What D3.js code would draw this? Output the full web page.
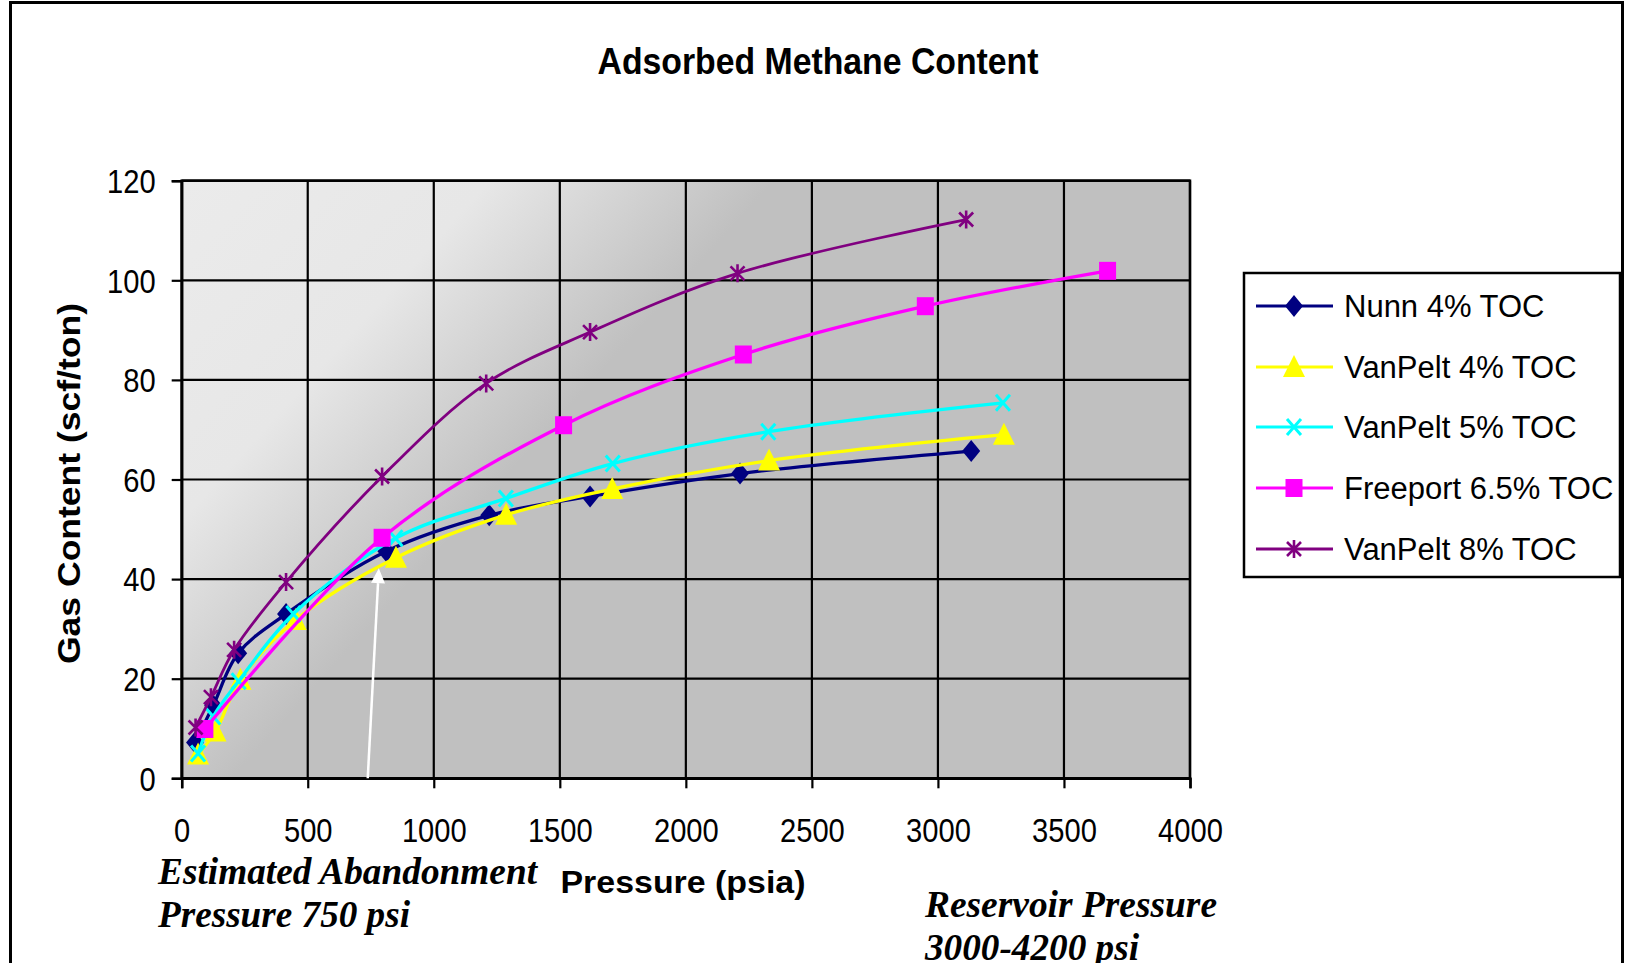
<!DOCTYPE html>
<html>
<head>
<meta charset="utf-8">
<script src="https://cdn.jsdelivr.net/npm/d3@7"></script>
<style>
  html, body { margin: 0; padding: 0; background: #ffffff; }
  svg { display: block; }
</style>
</head>
<body>
<svg id="chart" width="1627" height="963"></svg>
<script>
// ---------------- data ----------------
const xTicks = [0, 500, 1000, 1500, 2000, 2500, 3000, 3500, 4000];
const yTicks = [0, 20, 40, 60, 80, 100, 120];

const seriesNames = ["Nunn 4% TOC", "VanPelt 4% TOC", "VanPelt 5% TOC", "Freeport 6.5% TOC", "VanPelt 8% TOC"];
const seriesColors = ["#000080", "#FFFF00", "#00FFFF", "#FF00FF", "#800080"];
const seriesMarkers = ["diamond", "triangle", "cross", "square", "star"];

const nunnP = [53, 125, 224, 414, 812, 1220, 1620, 2215, 3132];
const nunnG = [7.2, 14.6, 25.1, 33.0, 45.6, 52.8, 56.6, 61.2, 65.7];
const vp4P  = [65, 134, 233, 452, 850, 1287, 1708, 2330, 3262];
const vp4G  = [4.8, 9.4, 19.8, 31.8, 44.3, 52.9, 58.1, 63.8, 69.0];
const vp5P  = [65, 125, 226, 443, 848, 1286, 1710, 2327, 3258];
const vp5G  = [5.0, 12.4, 19.5, 33.0, 48.2, 56.2, 63.2, 69.6, 75.4];
const fpP   = [92, 795, 1515, 2228, 2950, 3673];
const fpG   = [9.9, 48.3, 70.9, 85.1, 94.8, 101.9];
const vp8P  = [55, 116, 208, 414, 795, 1208, 1620, 2205, 3112];
const vp8G  = [10.2, 16.3, 25.8, 39.4, 60.6, 79.3, 89.6, 101.4, 112.2];

const seriesP = [nunnP, vp4P, vp5P, fpP, vp8P];
const seriesG = [nunnG, vp4G, vp5G, fpG, vp8G];

// annotation arrow (pressure, gas content): from tail to tip
const arrowFrom = [738, 0];
const arrowTo = [782, 42.2];

// ---------------- layout ----------------
const svg = d3.select("#chart");
const plot = { left: 181.7, top: 180.7, right: 1190, bottom: 778.3 };
const sans = "'Liberation Sans', Arial, sans-serif";
const serif = "'Liberation Serif', 'Times New Roman', serif";

const x = d3.scaleLinear().domain([0, 4000]).range([plot.left, plot.right]);
const y = d3.scaleLinear().domain([0, 120]).range([plot.bottom, plot.top]);

// outer border
svg.append("rect")
  .attr("x", 10.5).attr("y", 2.5)
  .attr("width", 1612).attr("height", 1000)
  .attr("fill", "none").attr("stroke", "#000").attr("stroke-width", 3);

// gradient background
const defs = svg.append("defs");
const grad = defs.append("linearGradient")
  .attr("id", "bg").attr("gradientUnits", "userSpaceOnUse")
  .attr("x1", plot.left).attr("y1", plot.top)
  .attr("x2", plot.left + 325).attr("y2", plot.top + 295);
grad.append("stop").attr("offset", 0).attr("stop-color", "#ebebeb");
grad.append("stop").attr("offset", 0.52).attr("stop-color", "#e7e7e7");
grad.append("stop").attr("offset", 1).attr("stop-color", "#c0c0c0");

svg.append("rect")
  .attr("x", plot.left).attr("y", plot.top)
  .attr("width", plot.right - plot.left).attr("height", plot.bottom - plot.top)
  .attr("fill", "url(#bg)");

// gridlines
const grid = svg.append("g");
grid.selectAll("line.v").data(xTicks).join("line")
  .attr("x1", d => x(d)).attr("x2", d => x(d))
  .attr("y1", plot.top).attr("y2", plot.bottom)
  .attr("stroke", "#000").attr("stroke-width", 2.2);
grid.selectAll("line.h").data(yTicks).join("line")
  .attr("x1", plot.left).attr("x2", plot.right)
  .attr("y1", d => y(d)).attr("y2", d => y(d))
  .attr("stroke", "#000").attr("stroke-width", 2.2);

// axes
const xAxis = d3.axisBottom(x).tickValues(xTicks).tickSize(10).tickPadding(30).tickFormat(d3.format("d"));
const yAxis = d3.axisLeft(y).tickValues(yTicks).tickSize(10).tickPadding(16).tickFormat(d3.format("d"));

const gx = svg.append("g").attr("transform", `translate(0,${plot.bottom})`).call(xAxis);
const gy = svg.append("g").attr("transform", `translate(${plot.left},0)`).call(yAxis);
[gx, gy].forEach(g => {
  g.select(".domain").attr("stroke", "#000").attr("stroke-width", 2.5);
  g.selectAll(".tick line").attr("stroke", "#000").attr("stroke-width", 2.2);
  g.selectAll(".tick text").attr("fill", "#000")
    .style("font-family", sans).style("font-size", "33px")
    .attr("textLength", function () { return this.textContent.length * 16.2; })
    .attr("lengthAdjust", "spacingAndGlyphs");
});
gx.selectAll(".tick text").attr("dy", "0.71em");
gy.selectAll(".tick text").attr("dy", "0.36em");

// plot border
svg.append("rect")
  .attr("x", plot.left).attr("y", plot.top)
  .attr("width", plot.right - plot.left).attr("height", plot.bottom - plot.top)
  .attr("fill", "none").attr("stroke", "#000").attr("stroke-width", 2.5);

// marker drawing
function drawMarker(g, type, color) {
  if (type === "diamond") {
    g.append("path").attr("d", "M0,-11 L9,0 L0,11 L-9,0 Z").attr("fill", color);
  } else if (type === "triangle") {
    g.append("path").attr("d", "M0,-12 L11,10 L-11,10 Z").attr("fill", color);
  } else if (type === "square") {
    g.append("rect").attr("x", -8.5).attr("y", -9).attr("width", 17).attr("height", 18).attr("fill", color);
  } else if (type === "cross") {
    g.append("path").attr("d", "M-7,-8 L7,8 M7,-8 L-7,8")
      .attr("stroke", color).attr("stroke-width", 3).attr("fill", "none");
  } else if (type === "star") {
    g.append("path").attr("d", "M0,-9 L0,9 M-7,-7 L7,7 M7,-7 L-7,7")
      .attr("stroke", color).attr("stroke-width", 2.6).attr("fill", "none");
  }
}

// series
const line = d3.line().x(d => x(d[0])).y(d => y(d[1])).curve(d3.curveCatmullRom.alpha(0.5));
seriesNames.forEach((name, i) => {
  const pts = seriesP[i].map((p, j) => [p, seriesG[i][j]]);
  const g = svg.append("g");
  g.append("path").datum(pts).attr("d", line)
    .attr("fill", "none").attr("stroke", seriesColors[i])
    .attr("stroke-width", i === 4 ? 2.8 : 3.3).attr("stroke-linejoin", "round");
  pts.forEach(pt => {
    const m = g.append("g").attr("transform", `translate(${x(pt[0])},${y(pt[1])})`);
    drawMarker(m, seriesMarkers[i], seriesColors[i]);
  });
});

// white arrow
const ax1 = x(arrowFrom[0]), ay1 = y(arrowFrom[1]);
const ax2 = x(arrowTo[0]), ay2 = y(arrowTo[1]);
const ang = Math.atan2(ay2 - ay1, ax2 - ax1);
const headLen = 15, headW = 7;
const bx = ax2 - headLen * Math.cos(ang), by = ay2 - headLen * Math.sin(ang);
svg.append("line")
  .attr("x1", ax1).attr("y1", ay1).attr("x2", bx).attr("y2", by)
  .attr("stroke", "#fff").attr("stroke-width", 2.5);
svg.append("path")
  .attr("d", `M${ax2},${ay2} L${bx + headW * Math.sin(ang)},${by - headW * Math.cos(ang)} L${bx - headW * Math.sin(ang)},${by + headW * Math.cos(ang)} Z`)
  .attr("fill", "#fff");

// title
svg.append("text")
  .attr("x", 818).attr("y", 74).attr("text-anchor", "middle")
  .attr("textLength", 441).attr("lengthAdjust", "spacingAndGlyphs")
  .style("font-family", sans).style("font-weight", "bold").style("font-size", "37px")
  .text("Adsorbed Methane Content");

// axis titles
svg.append("text")
  .attr("x", 683).attr("y", 893).attr("text-anchor", "middle")
  .attr("textLength", 245).attr("lengthAdjust", "spacingAndGlyphs")
  .style("font-family", sans).style("font-weight", "bold").style("font-size", "31px")
  .text("Pressure (psia)");

svg.append("text")
  .attr("transform", "translate(80,483.5) rotate(-90)")
  .attr("text-anchor", "middle")
  .attr("textLength", 361).attr("lengthAdjust", "spacingAndGlyphs")
  .style("font-family", sans).style("font-weight", "bold").style("font-size", "32px")
  .text("Gas Content (scf/ton)");

// annotations
function annot(txt, ax, ay, len) {
  svg.append("text").attr("x", ax).attr("y", ay)
    .attr("textLength", len).attr("lengthAdjust", "spacingAndGlyphs")
    .style("font-family", serif).style("font-weight", "bold").style("font-style", "italic")
    .style("font-size", "37px").text(txt);
}
annot("Estimated Abandonment", 158, 884, 379);
annot("Pressure 750 psi", 158, 927, 252);
annot("Reservoir Pressure", 925, 917, 292);
annot("3000-4200 psi", 925, 960, 214);

// legend
const lg = svg.append("g");
lg.append("rect").attr("x", 1244).attr("y", 273).attr("width", 376).attr("height", 304)
  .attr("fill", "#fff").attr("stroke", "#000").attr("stroke-width", 2.5);
const rowY = [306, 367, 427, 488, 549];
seriesNames.forEach((name, i) => {
  const r = lg.append("g").attr("transform", `translate(0,${rowY[i]})`);
  r.append("line").attr("x1", 1256).attr("x2", 1333).attr("y1", 0).attr("y2", 0)
    .attr("stroke", seriesColors[i]).attr("stroke-width", 3);
  const m = r.append("g").attr("transform", "translate(1294,0)");
  drawMarker(m, seriesMarkers[i], seriesColors[i]);
  r.append("text").attr("x", 1344).attr("y", 0).attr("dy", "0.36em")
    .style("font-family", sans).style("font-size", "31px").text(name);
});
</script>
</body>
</html>
